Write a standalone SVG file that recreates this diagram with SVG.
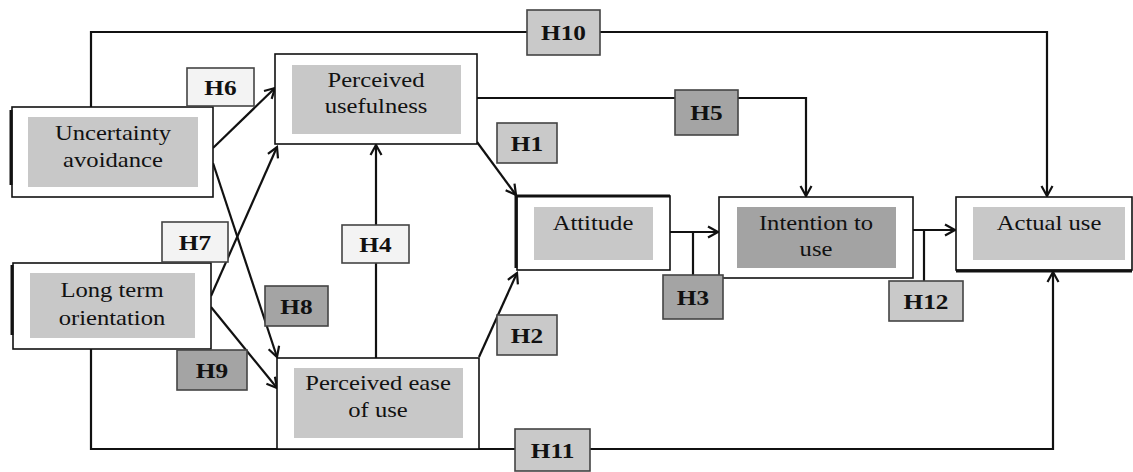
<svg xmlns="http://www.w3.org/2000/svg" width="1133" height="472" viewBox="0 0 1133 472">
<style>
.outer{fill:#fff;stroke:#111;stroke-width:1.6}
.inner{fill:#c8c8c8;stroke:none}
.innerdark{fill:#a3a3a3;stroke:none}
.edge{stroke:#111;stroke-width:3;fill:none}
.t{font-family:"Liberation Serif","Times New Roman",serif;font-size:22px;fill:#111;text-anchor:middle}
.lb{font-family:"Liberation Serif","Times New Roman",serif;font-size:22px;font-weight:bold;fill:#111;text-anchor:middle}
.hl{stroke:#444;stroke-width:1.6}
.l1{fill:#f3f3f3}
.l2{fill:#c9c9c9}
.l3{fill:#a4a4a4}
.c{stroke:#111;stroke-width:2.2;fill:none}
.ca{stroke:#111;stroke-width:2.2;fill:none;marker-end:url(#arr)}
</style>
<defs>
<marker id="arr" markerUnits="userSpaceOnUse" markerWidth="14" markerHeight="14" refX="11" refY="6" orient="auto" viewBox="0 0 14 12">
<path d="M1,0.5 L11,6 L1,11.5" fill="none" stroke="#111" stroke-width="2.2"/>
</marker>
</defs>
<rect width="1133" height="472" fill="#fff"/>

<g id="connectors">
<!-- H10 -->
<path class="ca" d="M91,107 V32 H1047 V196"/>
<!-- H11 -->
<path class="ca" d="M91,349 V449 H1053 V272"/>
<!-- H5 -->
<path class="ca" d="M477,98 H806 V196"/>
<!-- H6 -->
<path class="ca" d="M213,148 L275,88"/>
<!-- H8 -->
<path class="ca" d="M213,163 L277,357"/>
<!-- H7 -->
<path class="ca" d="M211,296 L277,147"/>
<!-- H9 -->
<path class="ca" d="M211,307 L277,388"/>
<!-- H4 -->
<path class="ca" d="M376,358 V145"/>
<!-- H1 -->
<path class="ca" d="M477,142 L516,195"/>
<!-- H2 -->
<path class="ca" d="M479,357 L517,273"/>
<!-- H3 -->
<path class="ca" d="M670,232 H718"/>
<path class="c" d="M693,232 V275"/>
<!-- H12 -->
<path class="ca" d="M913,230 H955"/>
<path class="c" d="M924,230 V281"/>
</g>

<g id="uncertainty-avoidance">
<rect class="outer" x="12" y="107" width="201" height="90"/>
<path class="edge" d="M11,110 V185"/>
<rect class="inner" x="28" y="117" width="170" height="70"/>
<text class="t" transform="translate(113,140) scale(1.12,1)">Uncertainty</text>
<text class="t" transform="translate(113,167) scale(1.12,1)">avoidance</text>
</g>

<g id="long-term-orientation">
<rect class="outer" x="13" y="263" width="198" height="86"/>
<path class="edge" d="M12,265 V335"/>
<rect class="inner" x="30" y="273" width="165" height="65"/>
<text class="t" transform="translate(112,297) scale(1.12,1)">Long term</text>
<text class="t" transform="translate(112,325) scale(1.12,1)">orientation</text>
</g>

<g id="perceived-usefulness">
<rect class="outer" x="275" y="54" width="202" height="90"/>
<rect class="inner" x="292" y="65" width="169" height="69"/>
<text class="t" transform="translate(376,87) scale(1.12,1)">Perceived</text>
<text class="t" transform="translate(376,113) scale(1.12,1)">usefulness</text>
</g>

<g id="perceived-ease-of-use">
<rect class="outer" x="277" y="358" width="202" height="91"/>
<rect class="inner" x="294" y="368" width="169" height="70"/>
<text class="t" transform="translate(378,390) scale(1.12,1)">Perceived ease</text>
<text class="t" transform="translate(378,417) scale(1.12,1)">of use</text>
</g>

<g id="attitude">
<rect class="outer" x="517" y="196" width="153" height="74"/>
<path class="edge" d="M516,268 V196 H670"/>
<rect class="inner" x="534" y="207" width="119" height="53"/>
<text class="t" transform="translate(593,230) scale(1.12,1)">Attitude</text>
</g>

<g id="intention-to-use">
<rect class="outer" x="719" y="197" width="194" height="81"/>
<rect class="innerdark" x="737" y="207" width="159" height="61"/>
<text class="t" transform="translate(816,230) scale(1.12,1)">Intention to</text>
<text class="t" transform="translate(816,256) scale(1.12,1)">use</text>
</g>

<g id="actual-use">
<rect class="outer" x="956" y="197" width="176" height="73"/>
<path class="edge" d="M956,271 H1132"/>
<rect class="inner" x="973" y="207" width="152" height="53"/>
<text class="t" transform="translate(1049,230) scale(1.12,1)">Actual use</text>
</g>

<g id="label-H10"><rect class="hl l2" x="527" y="10" width="73" height="45"/><text class="lb" transform="translate(563.5,40) scale(1.15,1)">H10</text></g>
<g id="label-H6"><rect class="hl l1" x="187" y="68" width="67" height="38"/><text class="lb" transform="translate(220.5,95) scale(1.15,1)">H6</text></g>
<g id="label-H5"><rect class="hl l3" x="675" y="90" width="63" height="45"/><text class="lb" transform="translate(706.5,120) scale(1.15,1)">H5</text></g>
<g id="label-H1"><rect class="hl l2" x="497" y="123" width="60" height="40"/><text class="lb" transform="translate(527,151) scale(1.15,1)">H1</text></g>
<g id="label-H7"><rect class="hl l1" x="162" y="222" width="66" height="40"/><text class="lb" transform="translate(195,250) scale(1.15,1)">H7</text></g>
<g id="label-H4"><rect class="hl l1" x="342" y="225" width="67" height="38"/><text class="lb" transform="translate(375.5,252) scale(1.15,1)">H4</text></g>
<g id="label-H8"><rect class="hl l3" x="265" y="286" width="63" height="40"/><text class="lb" transform="translate(296.5,314) scale(1.15,1)">H8</text></g>
<g id="label-H9"><rect class="hl l3" x="177" y="350" width="70" height="40"/><text class="lb" transform="translate(212,378) scale(1.15,1)">H9</text></g>
<g id="label-H2"><rect class="hl l2" x="497" y="315" width="60" height="40"/><text class="lb" transform="translate(527,343) scale(1.15,1)">H2</text></g>
<g id="label-H3"><rect class="hl l3" x="663" y="275" width="60" height="44"/><text class="lb" transform="translate(693,305) scale(1.15,1)">H3</text></g>
<g id="label-H12"><rect class="hl l2" x="889" y="281" width="74" height="40"/><text class="lb" transform="translate(926,309) scale(1.15,1)">H12</text></g>
<g id="label-H11"><rect class="hl l2" x="515" y="429" width="75" height="42"/><text class="lb" transform="translate(552.5,458) scale(1.15,1)">H11</text></g>
</svg>
